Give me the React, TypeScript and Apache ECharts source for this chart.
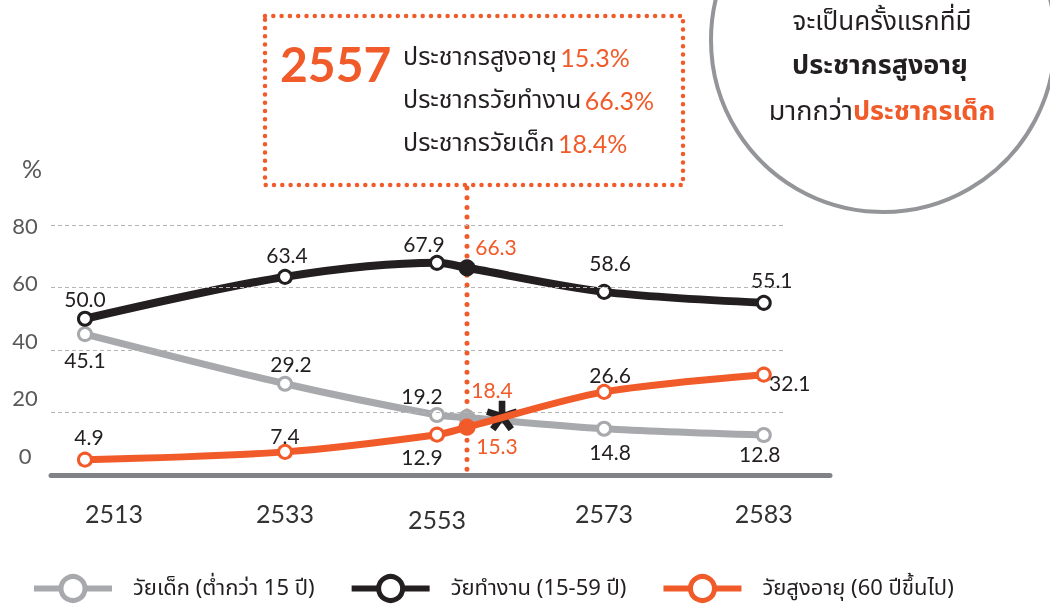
import React, { useEffect, useRef } from 'react';
import * as echarts from 'echarts';

// ---------- data ----------
const years = ['2513', '2533', '2553', '2557', '2573', '2583'];
const axisYears = ['2513', '2533', '2553', '2573', '2583'];
const childrenPct = [45.1, 29.2, 19.2, 18.4, 14.8, 12.8];
const workingPct = [50.0, 63.4, 67.9, 66.3, 58.6, 55.1];
const elderlyPct = [4.9, 7.4, 12.9, 15.3, 26.6, 32.1];
const yTicks = [0, 20, 40, 60, 80];
const seriesNames = ['วัยเด็ก (ต่ำกว่า 15 ปี)', 'วัยทำงาน (15-59 ปี)', 'วัยสูงอายุ (60 ปีขึ้นไป)'];
const highlightYear = '2557';
const boxLabels = ['ประชากรสูงอายุ', 'ประชากรวัยทำงาน', 'ประชากรวัยเด็ก'];
const circleLines = ['จะเป็นครั้งแรกที่มี', 'ประชากรสูงอายุ', 'มากกว่า', 'ประชากรเด็ก'];

// ---------- layout / style ----------
// horizontal placement of each year on a 0–100 scale (the infographic's own uneven spacing)
const X_SLOT = [4.36, 30.04, 49.55, 53.4, 71.0, 91.5];
const GRID_END = 94.2;
const STAR_AT = [57.9, 18.9];
const ORANGE = '#f15a29';
const DARK = '#231f20';
const GRAY = '#a7a9ac';
const THAI = "'Noto Sans Thai', 'Noto Sans Thai UI', 'Noto Sans', sans-serif";
const NUM = "Lato, 'Noto Sans', sans-serif";
const XFONT = "'Liberation Sans Narrow', " + NUM;

const childOffsets = [[0, 25], [6, -20], [-15, -20], [25, -28], [6, 23], [-4, 18]];
const workOffsets = [[0, -20], [2, -22], [-13, -19], [29, -21], [6, -29], [8, -23]];
const elderOffsets = [[4, -23], [0, -16], [-15, 22], [30, 18], [6, -17], [26, 8]];

function starPath(): string {
  const c = 50, L = 50, w = 10.5;
  let d = '';
  for (let k = 0; k < 5; k++) {
    const a = ((-90 + 72 * k) * Math.PI) / 180;
    const dx = Math.cos(a), dy = Math.sin(a);
    const px = -dy, py = dx;
    const p = [
      [c + px * w, c + py * w],
      [c + px * w + dx * L, c + py * w + dy * L],
      [c - px * w + dx * L, c - py * w + dy * L],
      [c - px * w, c - py * w],
    ];
    d += 'M' + p.map((q) => q[0].toFixed(2) + ' ' + q[1].toFixed(2)).join(' L') + ' Z ';
  }
  return d;
}

export default function App() {
  const ref = useRef<HTMLDivElement>(null);
  useEffect(() => {
    if (!ref.current) return;
    const chart = echarts.init(ref.current, undefined, { renderer: 'svg' });
    const hi = years.indexOf(highlightYear);

    const build = (name: string, values: number[], color: string, width: number, offsets: number[][], z: number, extra: any = {}) => ({
      type: 'line',
      name,
      smooth: 0.3,
      symbol: 'circle',
      symbolSize: 13,
      z,
      lineStyle: { color, width },
      itemStyle: { color: '#fff', borderColor: color, borderWidth: 3 },
      label: {
        show: true,
        position: 'inside',
        fontSize: 21,
        fontFamily: NUM,
        color: DARK,
        formatter: (p: any) => Number(p.value[1]).toFixed(1),
      },
      data: values.map((v, i) => ({
        value: [X_SLOT[i], v],
        symbolSize: i === hi ? 14 : 13,
        label: { offset: offsets[i], color: i === hi ? ORANGE : DARK },
        itemStyle: i === hi ? { color, borderColor: color } : undefined,
      })),
      ...extra,
    });

    const yRich: any = {};
    yTicks.forEach((v) => {
      const s = (80 - v) / 4;
      yRich['s' + v] = { fontSize: 22, fontFamily: NUM, color: '#58595b', padding: [0, 0, s * 2, 0] };
    });

    const xRich: any = {
      a: { fontSize: 25, fontFamily: XFONT, color: '#333' },
      first: { fontSize: 25, fontFamily: XFONT, color: '#333', padding: [0, 0, 0, 58] },
      low: { fontSize: 25, fontFamily: XFONT, color: '#333', padding: [6, 0, 0, 0] },
    };

    chart.setOption({
      animation: false,
      grid: { left: 51, right: 220, top: 225, bottom: 129 },
      xAxis: {
        type: 'value',
        min: 0,
        max: 100,
        axisLine: { show: true, lineStyle: { color: '#808285', width: 5 } },
        axisTick: { show: false },
        splitLine: { show: false },
        axisLabel: {
          customValues: axisYears.map((y) => X_SLOT[years.indexOf(y)]),
          margin: 25,
          rich: xRich,
          formatter: (v: number) => {
            const i = X_SLOT.findIndex((s) => Math.abs(s - v) < 1e-6);
            const y = years[i];
            if (i === 0) return '{first|' + y + '}';
            if (y === '2553') return '{low|' + y + '}';
            return '{a|' + y + '}';
          },
        },
      },
      yAxis: {
        type: 'value',
        min: 0,
        max: 80,
        interval: 20,
        name: '%',
        nameLocation: 'end',
        nameGap: 57,
        nameTextStyle: { fontSize: 25, fontFamily: NUM, color: '#58595b', align: 'right', verticalAlign: 'middle', padding: [0, 9, 0, 0] },
        axisLine: { show: false },
        axisTick: { show: false },
        splitLine: { show: false },
        axisLabel: {
          align: 'center',
          margin: 26,
          rich: yRich,
          formatter: (v: number) => '{s' + v + '|' + v + '}',
        },
      },
      legend: {
        data: seriesNames,
        left: 26,
        top: 569,
        itemWidth: 78,
        itemHeight: 30,
        itemGap: 34,
        lineStyle: { width: 6 },
        itemStyle: { borderWidth: 5 },
        textStyle: { fontSize: 22, color: DARK, fontFamily: THAI, padding: [0, 0, 0, 16] },
      },
      series: [
        {
          type: 'line',
          name: 'grid',
          data: [],
          z: 1,
          silent: true,
          markLine: {
            silent: true,
            symbol: 'none',
            label: { show: false },
            lineStyle: { type: [4, 3], color: '#b5b5b5', width: 1 },
            data: yTicks.filter((v) => v > 0).map((v) => [{ coord: [0, v] }, { coord: [GRID_END, v] }]),
          },
        },
        build(seriesNames[0], childrenPct, GRAY, 7, childOffsets, 3),
        build(seriesNames[1], workingPct, DARK, 8, workOffsets, 4),
        build(seriesNames[2], elderlyPct, ORANGE, 7, elderOffsets, 5, {
          markPoint: {
            symbol: 'path://' + starPath(),
            symbolSize: 32,
            symbolKeepAspect: true,
            itemStyle: { color: DARK },
            label: { show: false },
            data: [{ coord: STAR_AT }],
          },
        }),
      ],
    });

    const vx = chart.convertToPixel({ xAxisIndex: 0 }, X_SLOT[hi]) as number;
    const pct = (arr: number[]) => arr[hi].toFixed(1) + '%';
    const boxValues = [pct(elderlyPct), pct(workingPct), pct(childrenPct)];

    chart.setOption({
      graphic: [
        {
          type: 'line',
          shape: { x1: vx, y1: 188, x2: vx, y2: 474 },
          style: { stroke: ORANGE, lineWidth: 5, lineDash: [0, 9.7], lineCap: 'round' },
          z: 2,
        },
        {
          type: 'rect',
          shape: { x: 265, y: 16, width: 418, height: 169 },
          style: { fill: '#fff', stroke: ORANGE, lineWidth: 4.5, lineDash: [0, 8.3], lineCap: 'round' },
          z: 2,
        },
        {
          type: 'text',
          x: 280,
          y: 63,
          style: { text: highlightYear, fontSize: 48, fontWeight: 'bold', fontFamily: NUM, fill: ORANGE, verticalAlign: 'middle' },
          z: 3,
        },
        ...boxLabels.map((t, i) => ({
          type: 'text',
          x: 403,
          y: 57 + i * 43,
          style: {
            text: '{k|' + t + '} {v|' + boxValues[i] + '}',
            verticalAlign: 'middle',
            rich: {
              k: { fontSize: 25, fontFamily: THAI, fill: DARK, color: DARK },
              v: { fontSize: 25, fontFamily: NUM, fill: ORANGE, color: ORANGE },
            },
          },
          z: 3,
        })),
        {
          type: 'circle',
          shape: { cx: 883, cy: 40, r: 172 },
          style: { fill: '#fff', stroke: '#939598', lineWidth: 4 },
          z: 2,
        },
        {
          type: 'text',
          x: 882,
          y: 22,
          style: { text: circleLines[0], fontSize: 26, fontFamily: THAI, fill: DARK, align: 'center', verticalAlign: 'middle' },
          z: 3,
        },
        {
          type: 'text',
          x: 880,
          y: 65,
          style: { text: circleLines[1], fontSize: 27, fontWeight: 'bold', fontFamily: THAI, fill: DARK, align: 'center', verticalAlign: 'middle' },
          z: 3,
        },
        {
          type: 'text',
          x: 882,
          y: 111,
          style: {
            text: '{n|' + circleLines[2] + '}{o|' + circleLines[3] + '}',
            align: 'center',
            verticalAlign: 'middle',
            rich: {
              n: { fontSize: 27, fontFamily: THAI, fill: DARK, color: DARK },
              o: { fontSize: 27, fontWeight: 'bold', fontFamily: THAI, fill: ORANGE, color: ORANGE },
            },
          },
          z: 3,
        },
      ],
    });

    return () => chart.dispose();
  }, []);
  return <div ref={ref} style={{ position: 'fixed', left: 0, top: 0, width: 1050, height: 604 }} />;
}
